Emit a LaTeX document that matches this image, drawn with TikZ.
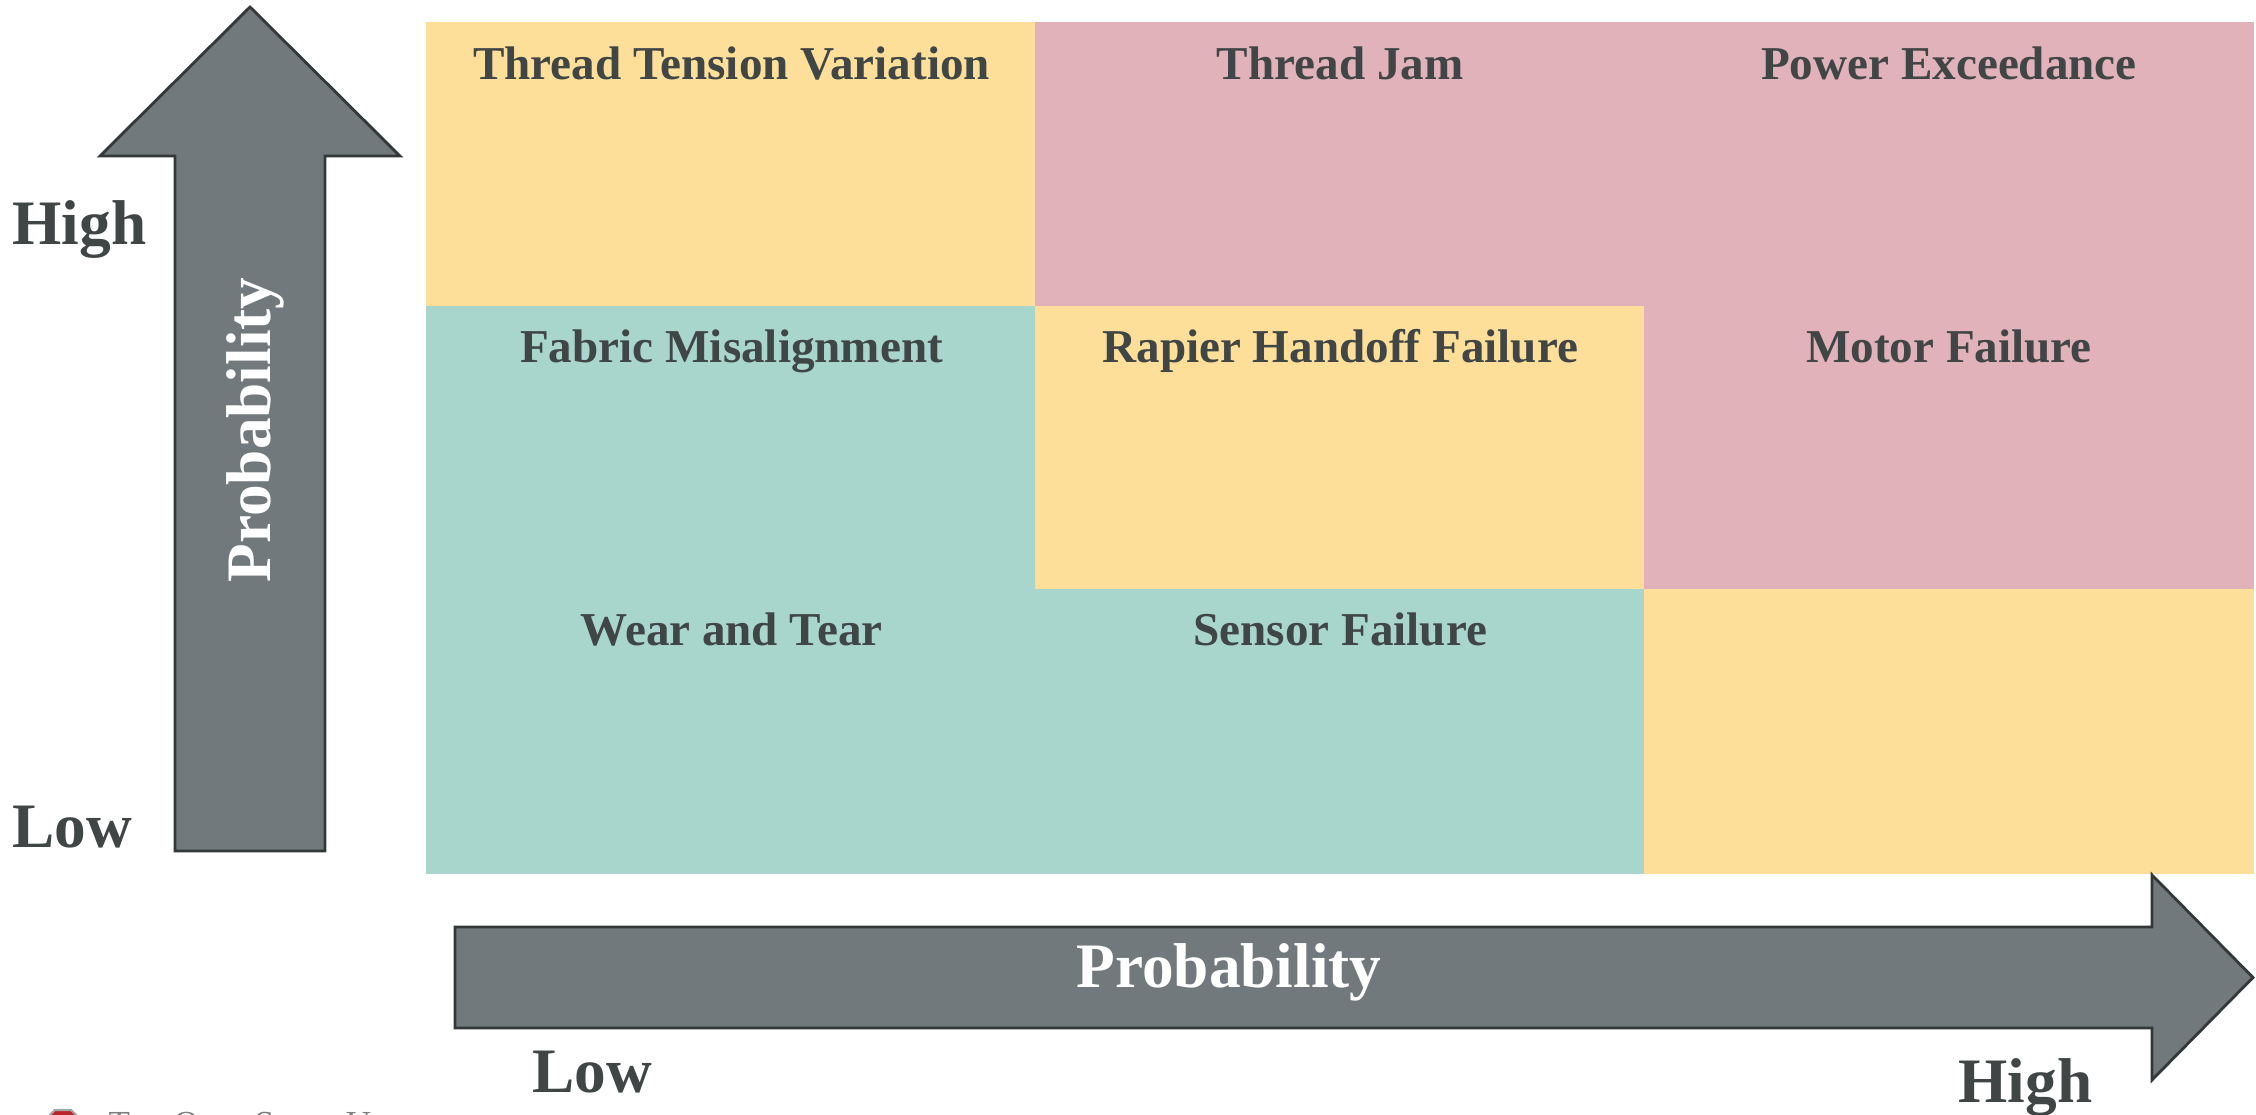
\documentclass[tikz,border=0pt]{standalone}
\usepackage{fontspec}
\setmainfont{Liberation Serif}
\usepackage{xcolor}
\usetikzlibrary{positioning}
\usetikzlibrary{shapes.geometric}
\definecolor{riskyellow}{HTML}{FDDF99}
\definecolor{riskpink}{HTML}{E1B2BA}
\definecolor{riskteal}{HTML}{A8D6CD}
\definecolor{arrowgray}{HTML}{72797C}
\definecolor{arrowline}{HTML}{333838}
\definecolor{textgray}{HTML}{404545}
\definecolor{logored}{HTML}{B8262C}
\def\cellwidth{6.087cm}
\def\cellheight{2.833cm}
\tikzset{
cell/.style={rectangle, fill=#1, draw=#1, line width=0.3pt,
	minimum width=\cellwidth, minimum height=\cellheight,
	inner sep=0pt, outer sep=0pt, anchor=north west},
celltext/.style={font=\fontsize{13.4}{16}\selectfont\bfseries, text=textgray, anchor=base},
axislabel/.style={font=\fontsize{18}{22}\selectfont\bfseries, text=textgray, anchor=base west, inner sep=0pt},
arrowtext/.style={font=\fontsize{18}{22}\selectfont\bfseries, text=white, anchor=base, inner sep=0pt},
blockarrow/.style={fill=arrowgray, draw=arrowline, line width=0.8pt},
}

\begin{document}
\begin{tikzpicture}[x=0.01cm, y=-0.01cm]
\useasboundingbox (0,0) rectangle (2256,1115);

%Place the cells
\foreach \r/\c/\col in {1/1/riskyellow, 1/2/riskpink, 1/3/riskpink,
	2/1/riskteal, 2/2/riskyellow, 2/3/riskpink,
	3/1/riskteal, 3/2/riskteal, 3/3/riskyellow} {
	\node[cell=\col] (c\r\c) at ({427+(\c-1)*608.7}, {23+(\r-1)*283.3}) {};
}

\foreach \r/\c/\txt in {1/1/Thread Tension Variation, 1/2/Thread Jam, 1/3/Power Exceedance,
	2/1/Fabric Misalignment, 2/2/Rapier Handoff Failure, 2/3/Motor Failure,
	3/1/Wear and Tear, 3/2/Sensor Failure} {
	\node[celltext] (t\r\c) at ([yshift=-0.56cm]c\r\c.north) {\txt};
}

%Axis arrows
\draw[blockarrow] (175,851) -- (175,156) -- (100,156) -- (250,7) -- (400,156)
	-- (325,156) -- (325,851) -- cycle;
\draw[blockarrow] (455,927) -- (2152,927) -- (2152,875) -- (2253,977.5) -- (2152,1080)
	-- (2152,1028) -- (455,1028) -- cycle;
\node[arrowtext, rotate=90] (yprob) at (270,430) {Probability};
\node[arrowtext] (xprob) at (1229,987) {Probability};

%Axis labels
\node[axislabel] (yhigh) at (12,245) {High};
\node[axislabel] (ylow) at (12,847) {Low};
\node[axislabel] (xlow) at (532,1092) {Low};
\node[axislabel] (xhigh) at (1958,1102) {High};

%Logo (cut by the page edge)
\begin{scope}
\clip (0,0) rectangle (2256,1115);
\node[regular polygon, regular polygon sides=8, minimum size=0.43cm, inner sep=0pt,
	fill=logored, draw=gray!70, line width=0.6pt] (logo) at (63,1130) {};
\node[anchor=base west, text=gray, inner sep=0pt] (uni) at (108,1135)
	{\fontsize{10}{12}\selectfont T\fontsize{7.8}{10}\selectfont HE
	\fontsize{10}{12}\selectfont O\fontsize{7.8}{10}\selectfont HIO
	\fontsize{10}{12}\selectfont S\fontsize{7.8}{10}\selectfont TATE
	\fontsize{10}{12}\selectfont U\fontsize{7.8}{10}\selectfont NIVERSITY};
\end{scope}

\end{tikzpicture}
\end{document}
